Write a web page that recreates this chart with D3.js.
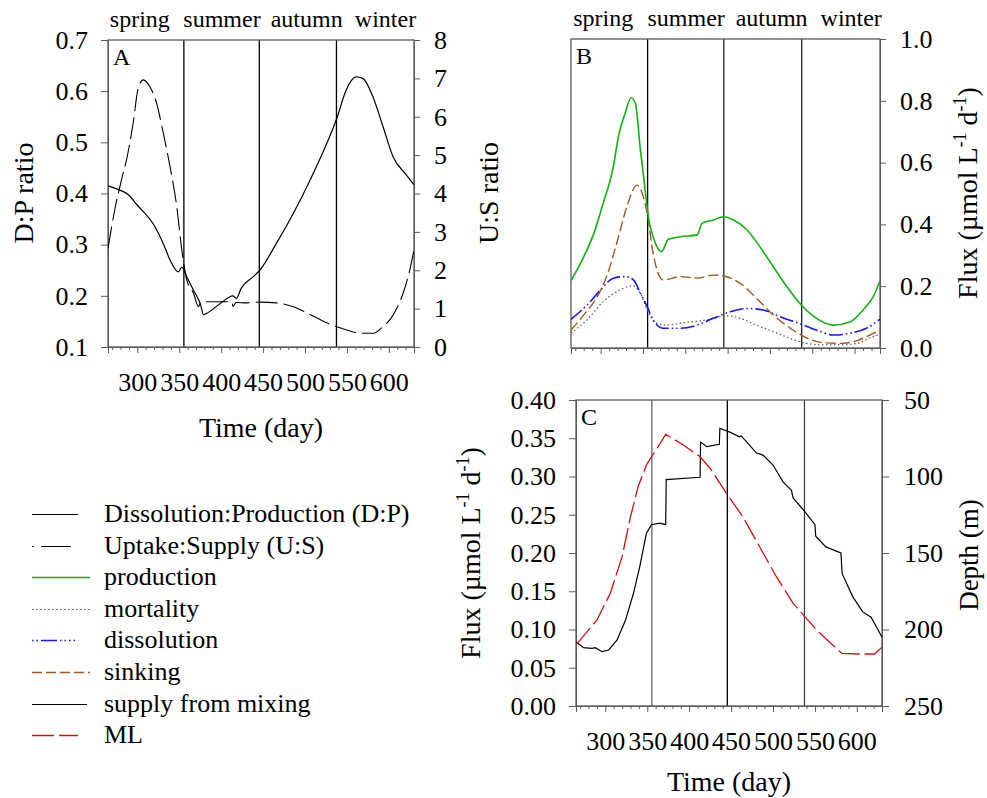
<!DOCTYPE html>
<html><head><meta charset="utf-8">
<script src="https://cdn.jsdelivr.net/npm/d3@7"></script>
<style>body{margin:0;background:#fff}</style>
</head><body>
<svg id="c" width="987" height="798"></svg>
<script>
// ---------------- data ----------------
const xDomain = [265, 630];
const seasonBounds = [355.5, 445.5, 537.5];
const seasonNames = ["spring", "summer", "autumn", "winter"];
const seasonLabelDays = [303, 401, 502, 596];
const dayTicks = [300, 350, 400, 450, 500, 550, 600];
const minorDayTicks = d3.range(270, 631, 10);

const dpTicks = [0.1, 0.2, 0.3, 0.4, 0.5, 0.6, 0.7];
const usTicks = [0, 1, 2, 3, 4, 5, 6, 7, 8];
const fluxBTicks = [0, 0.2, 0.4, 0.6, 0.8, 1.0];
const fluxCTicks = [0, 0.05, 0.10, 0.15, 0.20, 0.25, 0.30, 0.35, 0.40];
const depthTicks = [50, 100, 150, 200, 250];

// Panel A
const dpDay = [265,277,289,299,321,331,339,349,353,359,367,375,379,383,399,414,418,424,438,446,466,486,506,526,538,549,561,569,581,593,605,621,630];
const dpRatio = [0.415,0.408,0.398,0.379,0.335,0.302,0.270,0.247,0.256,0.237,0.211,0.185,0.163,0.166,0.185,0.200,0.195,0.215,0.237,0.250,0.303,0.361,0.426,0.498,0.547,0.602,0.628,0.625,0.589,0.531,0.472,0.436,0.417];
const usDay = [265,273,281,287,295,301,307,315,323,331,339,347,353,359,367,373,375,383,399,413,414,418,430,446,466,486,506,526,546,566,582,591,605,617,625,630];
const usRatio = [2.57,3.57,4.35,4.87,5.83,6.74,6.96,6.78,6.35,5.57,4.70,3.66,2.53,1.75,1.40,1.05,1.15,1.18,1.18,1.18,1.05,1.16,1.15,1.17,1.15,1.05,0.85,0.63,0.47,0.36,0.36,0.49,0.83,1.40,2.01,2.53];

// Panel B
const prodDay = [265,280,292,303,315,321,329,336,341,347,353,357,362,372,380,394,414,420,433,445,457,473,488,504,520,537,555,575,595,610,622,630];
const production = [0.218,0.295,0.371,0.468,0.587,0.684,0.760,0.810,0.792,0.641,0.501,0.414,0.360,0.312,0.352,0.360,0.366,0.404,0.414,0.425,0.414,0.382,0.328,0.263,0.198,0.139,0.096,0.074,0.085,0.123,0.166,0.217];
const sinkDay = [265,280,296,307,319,331,343,349,355,362,374,394,414,433,445,465,484,504,524,543,563,583,603,618,630];
const sinking = [0.058,0.107,0.166,0.231,0.339,0.457,0.527,0.501,0.436,0.306,0.220,0.231,0.226,0.236,0.233,0.209,0.161,0.107,0.064,0.033,0.017,0.015,0.024,0.042,0.058];
const dissDay = [265,284,300,315,329,339,347,355,362,374,394,414,433,453,473,492,512,536,555,575,595,614,630];
const dissolution = [0.093,0.139,0.188,0.226,0.231,0.220,0.177,0.134,0.091,0.064,0.064,0.074,0.096,0.117,0.128,0.123,0.101,0.078,0.058,0.042,0.048,0.064,0.093];
const mortDay = [265,284,303,323,337,347,355,365,378,398,418,433,449,465,484,504,524,543,563,583,603,622,630];
const mortality = [0.048,0.091,0.150,0.188,0.201,0.177,0.123,0.082,0.074,0.082,0.088,0.096,0.104,0.096,0.074,0.053,0.031,0.015,0.010,0.010,0.015,0.037,0.044];

// Panel C
const supDay = [265,274,284,288,296,304,314,324,333.5,341,345,349,355,365,372,372.6,413,413.6,421,436,436.6,448.5,460,462,472,480,488,500,512,522,524,538,550,551,563,581,582.5,595,607,617,630];
const supply = [0.0841,0.0762,0.0754,0.0762,0.0710,0.0732,0.0863,0.112,0.147,0.182,0.204,0.226,0.237,0.239,0.237,0.296,0.299,0.345,0.339,0.342,0.363,0.358,0.352,0.353,0.341,0.331,0.328,0.315,0.293,0.282,0.272,0.254,0.237,0.222,0.208,0.200,0.173,0.143,0.123,0.116,0.0898];
const mlDay = [265,290,306,320,330,339,349,355,363,372,393,413,425,444.5,464,484,504,524,538,552,567,582,603,621,630];
const mlDepth = [210.1,193.8,176.3,152.4,126.3,106.7,92.5,87.1,80.5,72.4,79.4,87.1,94.6,111.0,126.3,145.9,165.5,182.9,191.6,200.3,208.0,215.6,216.0,216.0,211.6];

const legendNames = ["Dissolution:Production (D:P)", "Uptake:Supply (U:S)", "production", "mortality", "dissolution", "sinking", "supply from mixing", "ML"];

// ---------------- styles ----------------
const FONT = '"Liberation Serif","Times New Roman",Times,serif';
const FS = 26, TFS = 28, SFS = 24;
const FRAME = "#5a5a5a";
const styles = {
  dp:   {stroke: "#000", dash: null, w: 1.2},
  us:   {stroke: "#000", dash: "22,6", w: 1.1},
  prod: {stroke: "#13b013", dash: null, w: 1.6},
  mort: {stroke: "#555", dash: "1.5,2.5", w: 1.2},
  diss: {stroke: "#1414ff", dash: "14,3,1.5,3,1.5,3", w: 1.6},
  sink: {stroke: "#a0561e", dash: "10,4", w: 1.4},
  sup:  {stroke: "#000", dash: null, w: 1.2},
  ml:   {stroke: "#cc1111", dash: "22,5", w: 1.3}
};

const svg = d3.select("#c").style("font-family", FONT);

function styleAxis(g) {
  g.selectAll("path.domain").attr("stroke", FRAME);
  g.selectAll(".tick line").attr("stroke", FRAME);
  g.selectAll("text").attr("font-family", FONT).attr("font-size", FS).attr("fill", "#000");
}

function panel(id, x, yR, opts) {
  const [x0, x1] = x.range();
  const [yb, yt] = yR.range();
  const g = svg.append("g");
  const clipId = "clip" + id;
  svg.append("clipPath").attr("id", clipId).append("rect")
    .attr("x", x0).attr("y", yt).attr("width", x1 - x0).attr("height", yb - yt);
  g.selectAll("line.season").data(seasonBounds).join("line")
    .attr("x1", d => x(d)).attr("x2", d => x(d)).attr("y1", yt).attr("y2", yb)
    .attr("stroke", (d, i) => opts.seasonColors[i]).attr("stroke-width", 1.3);
  g.append("rect").attr("x", x0).attr("y", yt).attr("width", x1 - x0).attr("height", yb - yt)
    .attr("fill", "none").attr("stroke", FRAME).attr("stroke-width", 1.3);
  const bx = g.append("g").attr("transform", `translate(0,${yb})`)
    .call(d3.axisBottom(x).tickValues(dayTicks).tickSize(6).tickPadding(20)
      .tickFormat(opts.xLabels ? d3.format("d") : ""));
  styleAxis(bx);
  g.append("g").attr("transform", `translate(0,${yb})`)
    .call(d3.axisBottom(x).tickValues(minorDayTicks.filter(d => !dayTicks.includes(d))).tickSize(3).tickFormat(""))
    .call(a => { a.select("path.domain").remove(); a.selectAll("line").attr("stroke", FRAME); });
  if (opts.seasons) {
    g.selectAll("text.sn").data(seasonNames).join("text")
      .attr("x", (d, i) => x(seasonLabelDays[i])).attr("y", yt - 13)
      .attr("text-anchor", "middle").attr("font-size", SFS).text(d => d);
  }
  g.append("text").attr("x", x0 + 5).attr("y", yt + 25).attr("font-size", 24).text(id);
  return {g, clip: `url(#${clipId})`};
}

function drawLine(g, clip, days, vals, x, y, st, curve) {
  const data = days.map((d, i) => [d, vals[i]]);
  g.append("path").datum(data)
    .attr("clip-path", clip)
    .attr("fill", "none").attr("stroke", st.stroke).attr("stroke-width", st.w)
    .attr("stroke-dasharray", st.dash)
    .attr("d", d3.line().x(d => x(d[0])).y(d => y(d[1])).curve(curve || d3.curveMonotoneX));
}

function rotLabel(x, y, parts, fs) {
  const t = svg.append("text").attr("transform", `translate(${x},${y}) rotate(-90)`)
    .attr("text-anchor", "middle").attr("font-size", fs || TFS);
  parts.forEach(p => {
    if (p.sup) t.append("tspan").attr("font-size", 18).attr("dy", -11).text(p.t);
    else t.append("tspan").attr("dy", p.back ? 11 : 0).text(p.t);
  });
}

// ---------------- Panel A ----------------
const xA = d3.scaleLinear(xDomain, [108, 414]);
const yA = d3.scaleLinear([0.1, 0.7], [347, 40]);
const yA2 = d3.scaleLinear([0, 8], [347, 40]);
const pA = panel("A", xA, yA, {seasons: true, xLabels: true, seasonColors: ["#000", "#000", "#000"]});
styleAxis(pA.g.append("g").attr("transform", "translate(108,0)")
  .call(d3.axisLeft(yA).tickValues(dpTicks).tickFormat(d3.format(".1f")).tickSize(7).tickPadding(13)));
styleAxis(pA.g.append("g").attr("transform", "translate(414,0)")
  .call(d3.axisRight(yA2).tickValues(usTicks).tickFormat(d3.format("d")).tickSize(6).tickPadding(14)));
drawLine(pA.g, pA.clip, dpDay, dpRatio, xA, yA, styles.dp);
drawLine(pA.g, pA.clip, usDay, usRatio, xA, yA2, styles.us);
rotLabel(33, 193, [{t: "D:P ratio"}]);
rotLabel(498, 193, [{t: "U:S ratio"}]);
svg.append("text").attr("x", 261).attr("y", 437).attr("text-anchor", "middle").attr("font-size", TFS).text("Time (day)");

// ---------------- Panel B ----------------
const xB = d3.scaleLinear(xDomain, [571, 880]);
const yB = d3.scaleLinear([0, 1], [348, 39]);
const pB = panel("B", xB, yB, {seasons: true, xLabels: false, seasonColors: ["#000", "#222", "#222"]});
styleAxis(pB.g.append("g").attr("transform", "translate(880,0)")
  .call(d3.axisRight(yB).tickValues(fluxBTicks).tickFormat(d3.format(".1f")).tickSize(6).tickPadding(14)));
drawLine(pB.g, pB.clip, mortDay, mortality, xB, yB, styles.mort);
drawLine(pB.g, pB.clip, dissDay, dissolution, xB, yB, styles.diss);
drawLine(pB.g, pB.clip, sinkDay, sinking, xB, yB, styles.sink);
drawLine(pB.g, pB.clip, prodDay, production, xB, yB, styles.prod);
const fluxParts = [{t: "Flux (µmol L"}, {t: "-1", sup: true}, {t: " d", back: true}, {t: "-1", sup: true}, {t: ")", back: true}];
rotLabel(977, 193, fluxParts);

// ---------------- Panel C ----------------
const xC = d3.scaleLinear(xDomain, [576, 882]);
const yC = d3.scaleLinear([0, 0.4], [706, 400]);
const yC2 = d3.scaleLinear([50, 250], [400, 706]);
const pC = panel("C", xC, yC, {seasons: false, xLabels: true, seasonColors: ["#666", "#000", "#444"]});
styleAxis(pC.g.append("g").attr("transform", "translate(576,0)")
  .call(d3.axisLeft(yC).tickValues(fluxCTicks).tickFormat(d3.format(".2f")).tickSize(7).tickPadding(13)));
styleAxis(pC.g.append("g").attr("transform", "translate(882,0)")
  .call(d3.axisRight(yC2).tickValues(depthTicks).tickFormat(d3.format("d")).tickSize(7).tickPadding(15)));
drawLine(pC.g, pC.clip, supDay, supply, xC, yC, styles.sup, d3.curveLinear);
drawLine(pC.g, pC.clip, mlDay, mlDepth, xC, yC2, styles.ml, d3.curveLinear);
rotLabel(480, 553, fluxParts);
rotLabel(978, 555, [{t: "Depth (m)"}], 27);
svg.append("text").attr("x", 729).attr("y", 791).attr("text-anchor", "middle").attr("font-size", TFS).text("Time (day)");

// ---------------- Legend ----------------
const legendKeys = ["dp", "us", "prod", "mort", "diss", "sink", "sup", "ml"];
const legendLen = [46, 39, 58, 58, 44, 58, 55, 46];
const lg = svg.append("g");
legendKeys.forEach((k, i) => {
  const yb = Math.round(522 + i * 31.6);
  const st = styles[k];
  lg.append("line").attr("x1", 32).attr("x2", 32 + legendLen[i]).attr("y1", yb - 7.5).attr("y2", yb - 7.5)
    .attr("stroke", st.stroke).attr("stroke-width", st.w)
    .attr("stroke-dasharray", k === "us" ? "2,7,30,10" : (k === "diss" ? "1.5,3,1.5,3,16,3,1.5,3,1.5,3" : st.dash));
  lg.append("text").attr("x", 104).attr("y", yb).attr("font-size", FS).text(legendNames[i]);
});
</script>
</body></html>
